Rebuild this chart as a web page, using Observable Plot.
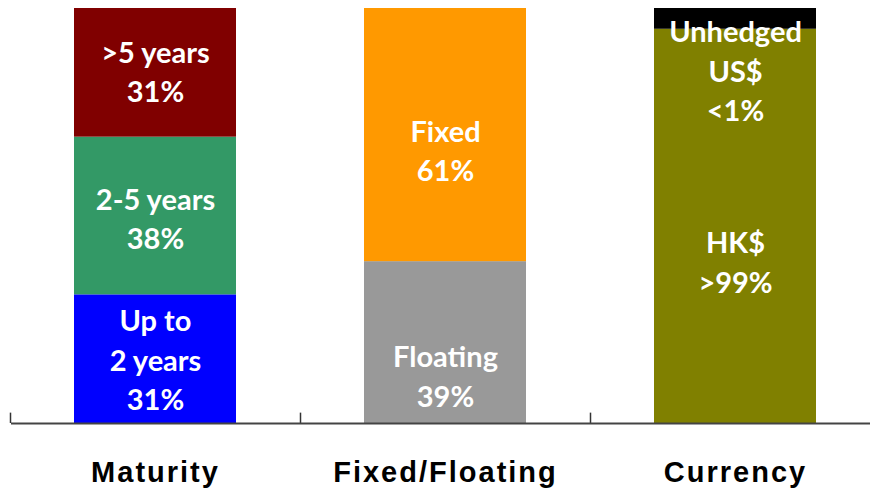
<!DOCTYPE html>
<html>
<head>
<meta charset="utf-8">
<script src="https://cdn.jsdelivr.net/npm/d3@7"></script>
<script src="https://cdn.jsdelivr.net/npm/@observablehq/plot@0.6"></script>
<style>
  html, body { margin: 0; padding: 0; background: #fff; }
</style>
</head>
<body>
<div id="chart"></div>
<script>
// Bar categories
const categories = ["Maturity", "Fixed/Floating", "Currency"];

// Maturity profile (bottom to top)
const maturityNames = ["Up to\n2 years", "2-5 years", ">5 years"];
const maturityValues = [31, 38, 31];
const maturityLabels = ["31%", "38%", "31%"];
const maturityColors = ["#0000ff", "#339966", "#800000"];

// Fixed vs floating rate split
const rateNames = ["Floating", "Fixed"];
const rateValues = [39, 61];
const rateLabels = ["39%", "61%"];
const rateColors = ["#999999", "#ff9900"];

// Currency split (the small unhedged slice is widened to stay visible)
const currencyNames = ["HK$", "Unhedged\nUS$"];
const currencyValues = [95, 5];
const currencyLabels = [">99%", "<1%"];
const currencyColors = ["#808000", "#000000"];

// Vertical nudges (px) for the in-bar labels
const labelNudge = {
  Maturity: [-1, 1, -3],
  "Fixed/Floating": [32, 14],
  Currency: [34, 50]
};

function buildRows(category, names, values, labels, colors) {
  let base = 0;
  return names.map((name, i) => {
    const row = {
      category, name, value: values[i], share: labels[i], color: colors[i],
      mid: base + values[i] / 2, nudge: labelNudge[category][i]
    };
    base += values[i];
    return row;
  });
}

const rows = [
  ...buildRows("Maturity", maturityNames, maturityValues, maturityLabels, maturityColors),
  ...buildRows("Fixed/Floating", rateNames, rateValues, rateLabels, rateColors),
  ...buildRows("Currency", currencyNames, currencyValues, currencyLabels, currencyColors)
];

const labelFont = "Lato, 'Open Sans', sans-serif";

const labelMarks = rows.map(r => Plot.text([r], {
  x: "category",
  y: "mid",
  text: d => `${d.name}\n${d.share}`,
  dy: r.nudge,
  fill: "white",
  fontSize: 29,
  fontWeight: "bold",
  fontFamily: labelFont,
  lineHeight: 1.36,
  textAnchor: "middle"
}));

const chart = Plot.plot({
  width: 870,
  height: 491,
  marginTop: 8,
  marginBottom: 68,
  marginLeft: 11,
  marginRight: 0,
  style: { background: "white", fontFamily: labelFont },
  x: { domain: categories, range: [10, 880], paddingInner: 0.44, paddingOuter: 0.22, axis: null },
  y: { domain: [0, 100], axis: null },
  marks: [
    Plot.barY(rows, Plot.stackY({
      x: "category", y: "value", fill: "color", order: null
    })),
    ...labelMarks,
    // separator ticks between categories
    Plot.ruleX(categories, {
      x: d => d, dx: -145, y1: 0, y2: 2.5,
      stroke: "#333", strokeWidth: 1.5
    }),
    // baseline
    Plot.ruleY([0], { stroke: "#444", strokeWidth: 2 }),
    // category labels
    Plot.text(categories, {
      x: d => d,
      frameAnchor: "bottom",
      dy: 58,
      text: d => d,
      fill: "black",
      fontSize: 29,
      fontWeight: "bold",
      fontFamily: "'Liberation Sans', Arial, sans-serif"
    })
  ]
});

// widen the category captions a little
d3.select(chart).selectAll("text")
  .filter(function () { return categories.includes(this.textContent); })
  .style("letter-spacing", "2px");

document.getElementById("chart").appendChild(chart);
</script>
</body>
</html>
